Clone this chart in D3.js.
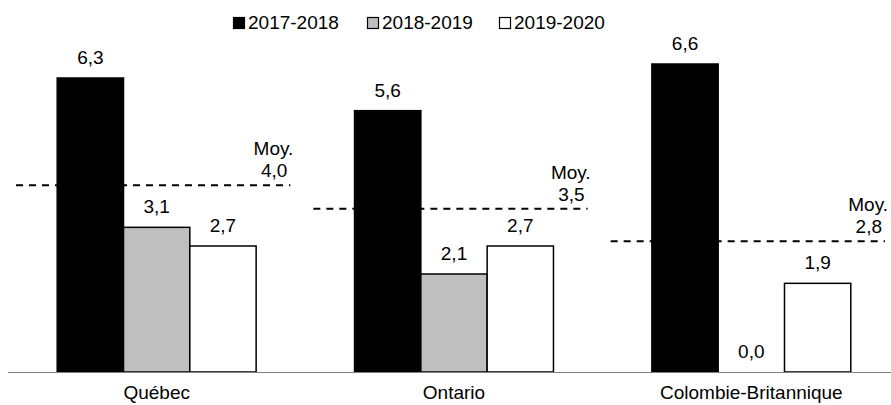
<!DOCTYPE html>
<html>
<head>
<meta charset="utf-8">
<script src="https://cdn.jsdelivr.net/npm/d3@7"></script>
<style>
  html, body { margin: 0; padding: 0; background: #fff; }
  svg text { font-family: Arial, "Liberation Sans", sans-serif; fill: #000; }
</style>
</head>
<body>
<svg id="chart" width="891" height="405"></svg>
<script>
// Provinces and school years
const categories = ["Québec", "Ontario", "Colombie-Britannique"];
const series = ["2017-2018", "2018-2019", "2019-2020"];
const seriesColors = ["#000000", "#BFBFBF", "#FFFFFF"];

// Growth by year, one array per series (same order as categories)
const values2017 = [6.3, 5.6, 6.6];
const values2018 = [3.1, 2.1, 0.0];
const values2019 = [2.7, 2.7, 1.9];
const seriesValues = [values2017, values2018, values2019];

// Average over the three years for each province
const averages = [4.0, 3.5, 2.8];
const avgLabel = "Moy.";

const fmt = v => d3.format(".1f")(v).replace(".", ",");

const svg = d3.select("#chart");
const baseY = 372;
const fontSize = 19;

const x = d3.scaleBand().domain(categories).range([8, 900]).paddingInner(0).paddingOuter(0);
const xs = d3.scaleBand().domain(series).range([0, x.bandwidth()]).paddingInner(0).paddingOuter(0.742);
const y = d3.scaleLinear().domain([0, 6.6]).range([baseY, 64]);

// Legend
const legendX = [233, 367, 499];
const legend = svg.append("g");
series.forEach((s, i) => {
  legend.append("rect")
    .attr("x", legendX[i] + 0.5).attr("y", 17.5)
    .attr("width", 11).attr("height", 11)
    .attr("fill", seriesColors[i]).attr("stroke", "#000").attr("stroke-width", 1.2);
  legend.append("text")
    .attr("x", legendX[i] + 15).attr("y", 29)
    .attr("font-size", fontSize)
    .text(s);
});

// Bars
const rows = [];
categories.forEach((c, ci) => {
  series.forEach((s, si) => rows.push({ cat: c, ser: s, si, v: seriesValues[si][ci] }));
});

const barG = svg.append("g");
barG.selectAll("rect").data(rows).join("rect")
  .attr("x", d => x(d.cat) + xs(d.ser))
  .attr("y", d => y(d.v))
  .attr("width", xs.bandwidth())
  .attr("height", d => baseY - y(d.v))
  .attr("fill", d => seriesColors[d.si])
  .attr("stroke", "#000").attr("stroke-width", 1.5);

// Bar value labels
barG.selectAll("text").data(rows).join("text")
  .attr("x", d => x(d.cat) + xs(d.ser) + xs.bandwidth() / 2)
  .attr("y", d => y(d.v) - 14)
  .attr("text-anchor", "middle")
  .attr("font-size", fontSize)
  .text(d => fmt(d.v));

// Average lines with labels
const avgG = svg.append("g");
categories.forEach((c, i) => {
  const x0 = x(c) + 8, x1 = x(c) + x.bandwidth() - 15;
  const yy = y(averages[i]);
  avgG.append("line")
    .attr("x1", x0).attr("x2", x1).attr("y1", yy).attr("y2", yy)
    .attr("stroke", "#000").attr("stroke-width", 2)
    .attr("stroke-dasharray", "7,6");
  const t = avgG.append("text")
    .attr("text-anchor", "end")
    .attr("font-size", fontSize);
  t.append("tspan").attr("x", x1 + 3).attr("y", yy - 30).text(avgLabel);
  t.append("tspan").attr("x", x1 - 3).attr("y", yy - 8).text(fmt(averages[i]));
});

// Category axis
const axis = svg.append("g").attr("transform", `translate(0,${baseY})`)
  .call(d3.axisBottom(x).tickSize(0).tickPadding(0));
axis.select(".domain").attr("stroke", "#808080").attr("stroke-width", 1.2).attr("d", "M8,0.5H891");
axis.selectAll(".tick text")
  .attr("y", 27)
  .attr("dy", 0)
  .attr("font-size", fontSize)
  .attr("font-family", "Arial, 'Liberation Sans', sans-serif")
  .attr("fill", "#000");
</script>
</body>
</html>
